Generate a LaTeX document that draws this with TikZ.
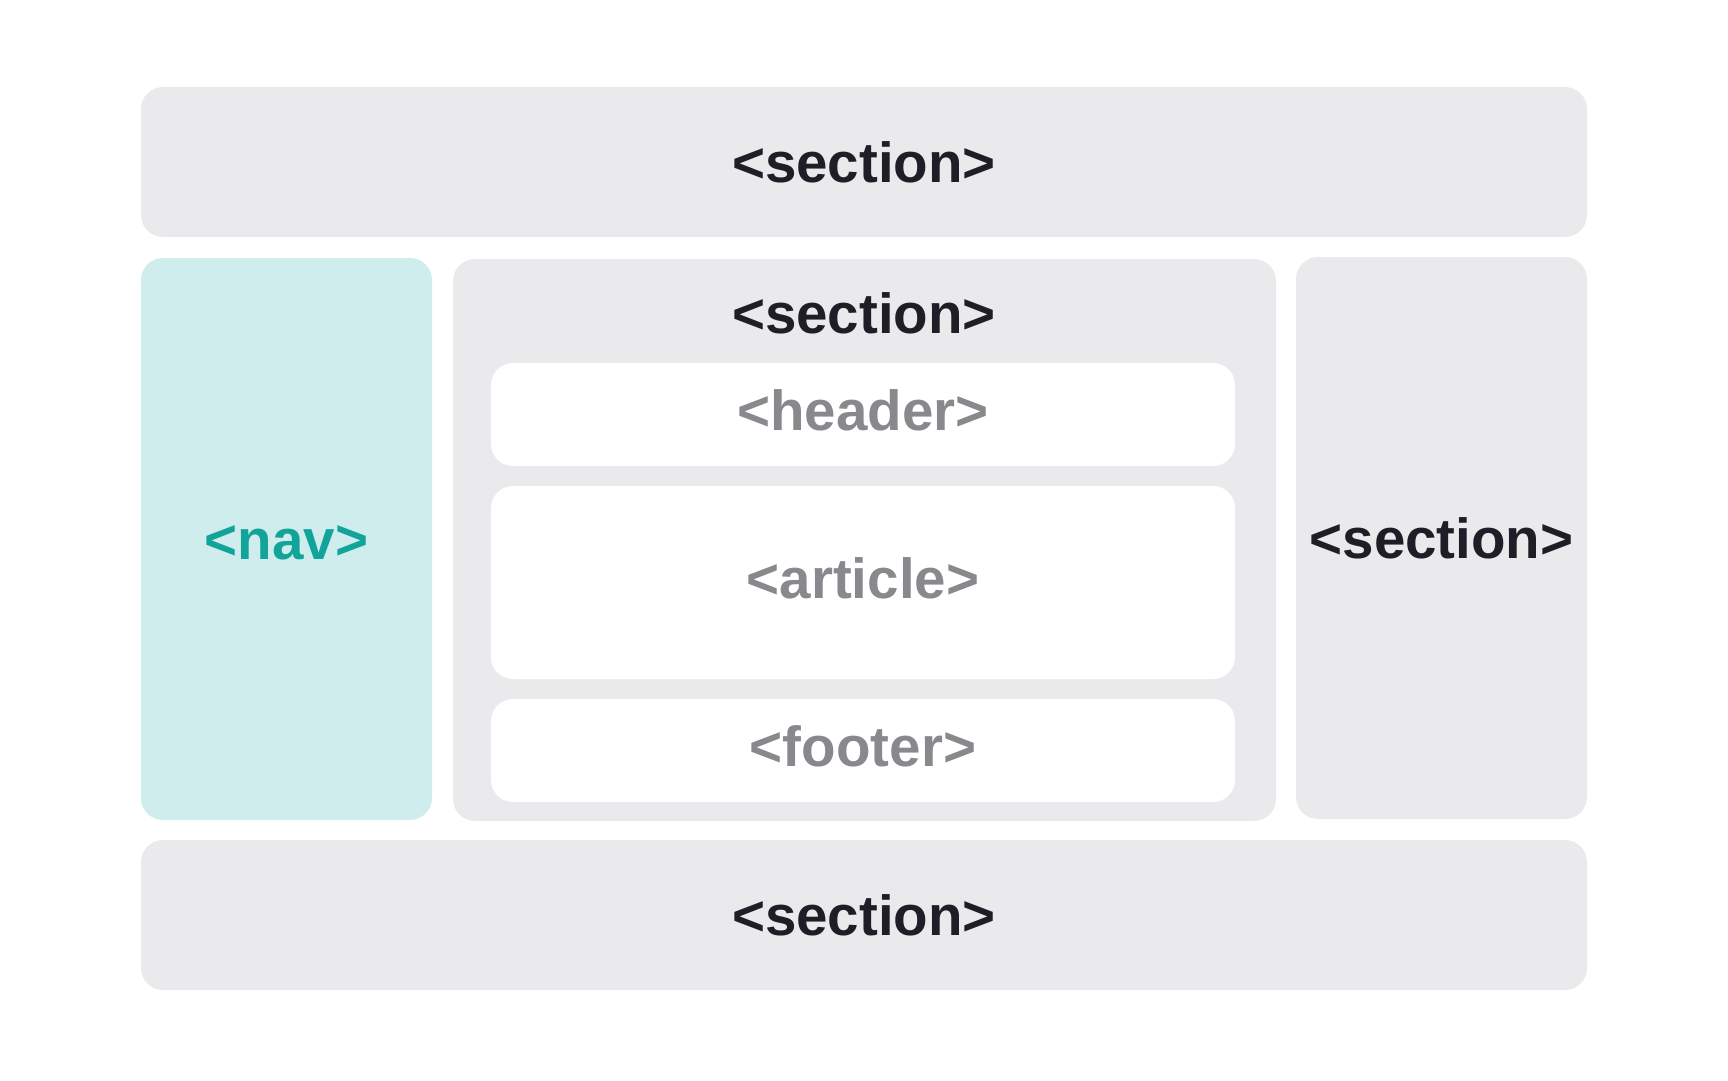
\documentclass[tikz,border=0pt]{standalone}
\usepackage{fontspec}
\setmainfont{Liberation Sans}
\usetikzlibrary{positioning}
\definecolor{boxgray}{HTML}{EAEAEC}
\definecolor{navfill}{HTML}{CFEDEC}
\definecolor{navtext}{HTML}{12A39A}
\definecolor{darktext}{HTML}{1E1F26}
\definecolor{softtext}{HTML}{88888D}
\tikzset{
    basic/.style   = {rectangle, rounded corners=22pt, inner sep=0pt, text height=42pt, text depth=2pt, font=\fontsize{56.5}{60}\selectfont\bfseries, align=center},
    section box/.style = {basic, fill=boxgray, text=darktext},
    nav box/.style     = {basic, fill=navfill, text=navtext},
    inner box/.style   = {basic, fill=white, text=softtext, text height=40pt, text depth=8pt}
}
\begin{document}
\begin{tikzpicture}[x=1pt, y=-1pt]
	\useasboundingbox (0,0) rectangle (1728,1080);
		% outer rows
		\node[section box, minimum width=1446pt, minimum height=150pt] (top) at (864,162) {<section>};
		\node[section box, minimum width=1446pt, minimum height=150pt] (bottom) at (864,915) {<section>};
		% middle row
		\node[nav box, minimum width=291pt, minimum height=562pt] (nav) at (286.5,539) {<nav>};
		\node[section box, minimum width=823pt, minimum height=562pt] (main) at (864.5,540) {};
		\node[section box, minimum width=291pt, minimum height=562pt] (aside) at (1441.5,538) {<section>};
		\node[basic, text=darktext] (mainlabel) at (864,313) {<section>};
		% inside the middle section
		\begin{scope}[every node/.append style={inner box, minimum width=744pt}]
			\node[minimum height=103pt] (header) at (863,414.5) {<header>};
			\node[minimum height=193pt] (article) at (863,582.5) {<article>};
			\node[minimum height=103pt] (footer) at (863,750.5) {<footer>};
		\end{scope}
	\end{tikzpicture}
\end{document}
